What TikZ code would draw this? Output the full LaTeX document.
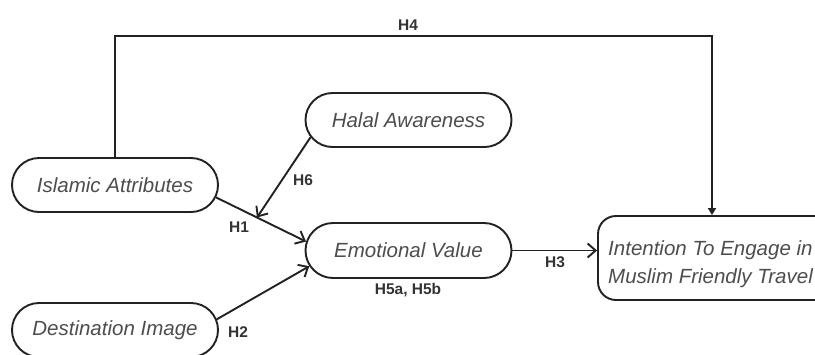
\documentclass[tikz,border=0pt]{standalone}
\usepackage{fontspec}
\setmainfont{Liberation Sans}
\usetikzlibrary{shapes.misc,arrows.meta,calc}
\definecolor{txt}{HTML}{4D4D4D}
\definecolor{lbl}{HTML}{333333}
\definecolor{ln}{HTML}{222222}
\tikzset{
  construct/.style={rounded rectangle, draw=ln, line width=1.9pt, minimum width=206pt, minimum height=54pt,
    font=\fontsize{20.5}{24}\selectfont\itshape, text=txt, inner sep=0pt},
  hyp/.style={font=\fontsize{15.5}{18}\selectfont\bfseries, text=lbl, inner sep=0pt},
  link/.style={draw=ln, line width=1.9pt, -{Straight Barb[length=8pt,width=14pt]}},
  toplink/.style={draw=ln, line width=1.9pt, -{Triangle[length=7pt,width=8pt]}}
}
\begin{document}
\begin{tikzpicture}[x=1pt,y=-1pt]
\useasboundingbox (0,0) rectangle (815,354);
\clip (0,0) rectangle (815,354);
\fill[white] (0,0) rectangle (815,354);
\node[construct] (ia) at (115,185) {Islamic Attributes};
\node[construct, minimum height=54pt] (ha) at (408.5,120) {Halal Awareness};
\node[construct, minimum height=55pt] (ev) at (408.5,250.5) {Emotional Value};
\node[construct] (di) at (115,330) {Destination Image};
\node[draw=ln, line width=1.9pt, rounded corners=18pt, minimum width=240pt, minimum height=84pt]
  (it) at (718,258) {};
\node[anchor=west, align=left, inner sep=0pt, font=\fontsize{20.5}{28}\selectfont\itshape, text=txt]
  (itx) at (608,264) {Intention To Engage in\\Muslim Friendly Travel};
% connectors
\draw[link] (ia.-7) -- (ev.175) coordinate[pos=0.455] (h6end);
\draw[link] (di.6) -- (ev.-171);
\draw[link] (ha.190) -- (h6end);
\draw[link] (ev.east) -- (ev.east -| it.west);
\coordinate (h4r) at (712,36);
\draw[toplink] (ia.north) |- (h4r) -- (h4r |- it.north);
% labels
\node[hyp] (l4) at (408,25) {H4};
\node[hyp] (l6) at (303,180) {H6};
\node[hyp] (l1) at (239,227) {H1};
\node[hyp] (l2) at (238,332) {H2};
\node[hyp] (l3) at (555,262) {H3};
\node[hyp] (l5) at (408,290) {H5a, H5b};
\end{tikzpicture}
\end{document}
